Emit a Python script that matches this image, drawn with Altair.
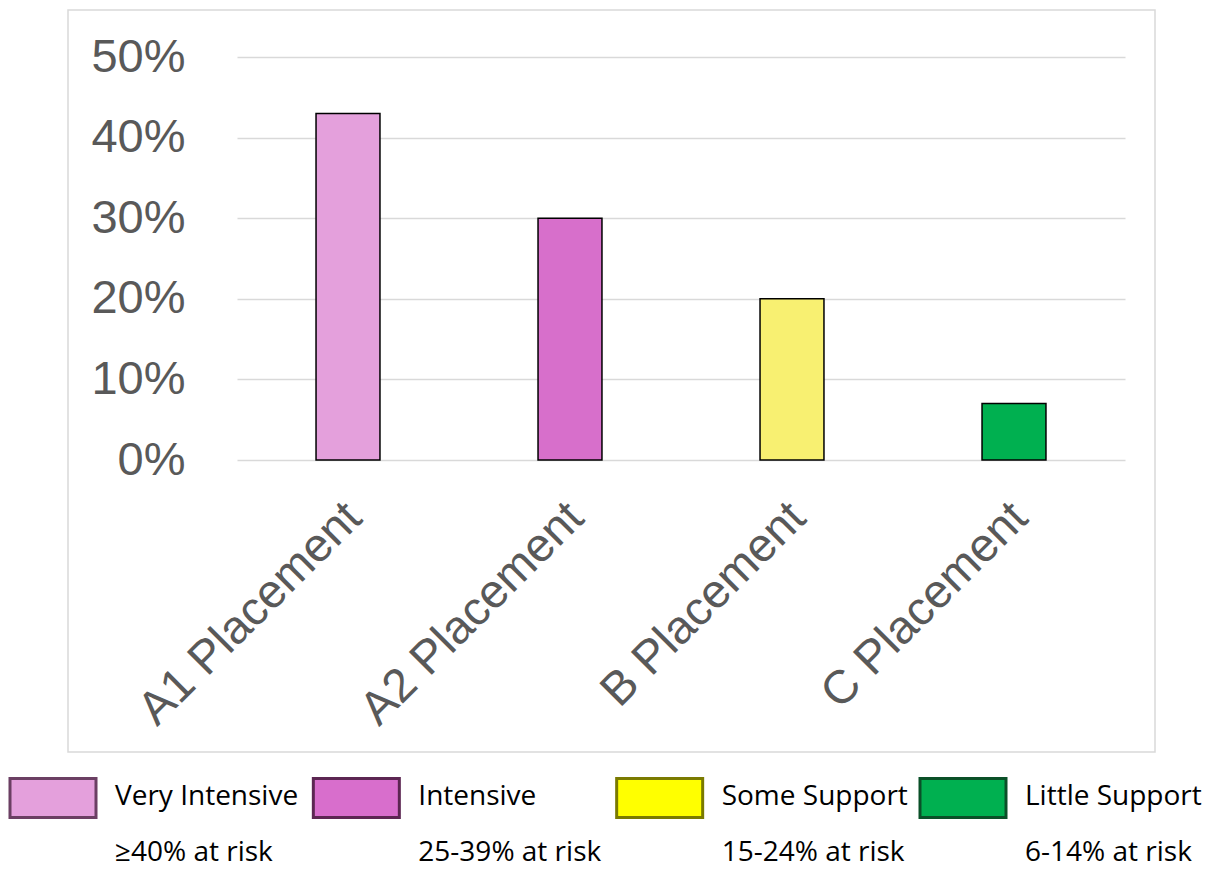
import altair as alt
import pandas as pd

categories = ["A1 Placement", "A2 Placement", "B Placement", "C Placement"]
shares = [0.43, 0.30, 0.20, 0.07]
bar_colors = ["#E4A0DC", "#D76FCB", "#F8F071", "#00B050"]

legend_names = ["Very Intensive", "Intensive", "Some Support", "Little Support"]
legend_risk = ["≥40% at risk", "25-39% at risk", "15-24% at risk", "6-14% at risk"]
legend_fills = ["#E4A0DC", "#D86ECC", "#FFFF00", "#00B050"]
legend_strokes = ["#6B3F63", "#5C2652", "#7A7A00", "#0A5028"]

y_ticks = [0, 0.1, 0.2, 0.3, 0.4, 0.5]

bars_df = pd.DataFrame({"category": categories, "share": shares})
legend_df = pd.DataFrame({"name": legend_names, "risk": legend_risk})
frame_df = pd.DataFrame({"k": [0]})

W, H = 888, 403
AXIS_FONT = "Liberation Sans"
AXIS_COLOR = "#595959"
LEGEND_FONT = "Open Sans"

frame = alt.Chart(frame_df).mark_rect(filled=False, stroke="#D9D9D9", strokeWidth=1.5).encode(
    x=alt.value(-169), x2=alt.value(918), y=alt.value(-47), y2=alt.value(695)
)

bars = alt.Chart(bars_df).mark_bar(stroke="black", strokeWidth=1.5).encode(
    x=alt.X(
        "category:N", sort=categories,
        scale=alt.Scale(paddingInner=0.712, paddingOuter=0.356),
        axis=alt.Axis(title=None, labelAngle=-45, labelAlign="right", labelBaseline="middle",
                      labelFontSize=47, labelFont=AXIS_FONT, labelColor=AXIS_COLOR,
                      labelPadding=50, labelOffset=6, domain=False, ticks=False, labelLimit=0),
    ),
    y=alt.Y(
        "share:Q", scale=alt.Scale(domain=[0, 0.5], nice=False),
        axis=alt.Axis(values=y_ticks, format=".0%", title=None, labelFontSize=47,
                      labelFont=AXIS_FONT, labelColor=AXIS_COLOR, labelPadding=52,
                      domain=False, ticks=False, gridColor="#D9D9D9", gridWidth=1.5),
    ),
    fill=alt.Fill("category:N", scale=alt.Scale(domain=categories, range=bar_colors), legend=None),
)

leg_x = alt.X("name:N", sort=legend_names,
              scale=alt.Scale(type="point", range=[-184, 726], padding=0), axis=None)

leg_rect = alt.Chart(legend_df).mark_rect(width=86, height=39, strokeWidth=3).encode(
    x=leg_x, y=alt.value(741),
    fill=alt.Fill("name:N", scale=alt.Scale(domain=legend_names, range=legend_fills), legend=None),
    stroke=alt.Stroke("name:N", scale=alt.Scale(domain=legend_names, range=legend_strokes), legend=None),
)

leg_text1 = alt.Chart(legend_df).mark_text(
    align="left", baseline="alphabetic", dx=62, fontSize=28, font=LEGEND_FONT, color="black"
).encode(x=leg_x, y=alt.value(748), text="name:N")

leg_text2 = alt.Chart(legend_df).mark_text(
    align="left", baseline="alphabetic", dx=62, fontSize=28, font=LEGEND_FONT, color="black"
).encode(x=leg_x, y=alt.value(804), text="risk:N")

chart = alt.layer(frame, bars, leg_rect, leg_text1, leg_text2).resolve_scale(
    x="independent", fill="independent", stroke="independent"
).properties(
    width=W, height=H,
    padding={"left": 237, "top": 57, "right": 92, "bottom": 412},
    autosize=alt.AutoSizeParams(type="none"),
).configure_view(stroke=None)

chart.save("out.html", embed_options={"renderer": "svg", "actions": False})
